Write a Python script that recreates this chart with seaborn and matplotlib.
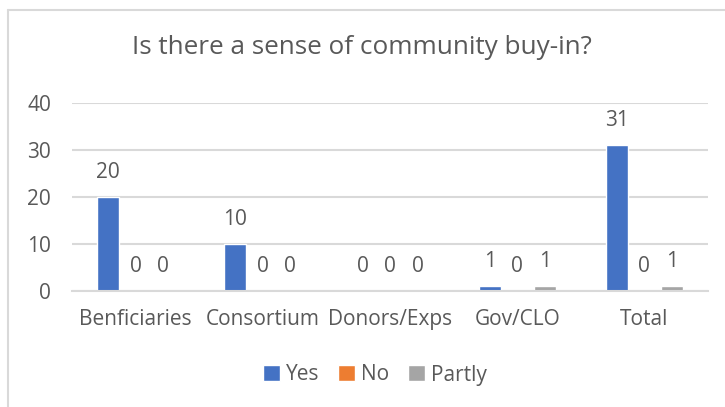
import matplotlib
matplotlib.use("Agg")
import matplotlib.pyplot as plt
from matplotlib.lines import Line2D
import seaborn as sns
import pandas as pd

# Survey responses per stakeholder group
groups = ["Benficiaries", "Consortium", "Donors/Exps", "Gov/CLO", "Total"]
yes_counts = [20, 10, 0, 1, 31]
no_counts = [0, 0, 0, 0, 0]
partly_counts = [0, 0, 0, 1, 1]
responses = ["Yes", "No", "Partly"]
colors = ["#4472C4", "#ED7D31", "#A5A5A5"]
y_ticks = [0, 10, 20, 30, 40]

rows = []
for resp, vals in zip(responses, [yes_counts, no_counts, partly_counts]):
    for g, v in zip(groups, vals):
        rows.append({"group": g, "response": resp, "count": v})
df = pd.DataFrame(rows)

sns.set_theme(style="white")
plt.rcParams["font.family"] = ["Open Sans", "DejaVu Sans"]
text_color = "#595959"
grid_color = "#D9D9D9"
fs = 15

W, H = 725, 407
fig = plt.figure(figsize=(W / 100, H / 100), dpi=100)
ax = fig.add_axes([72 / W, 1 - 291 / H, (708 - 72) / W, (291 - 103) / H])

sns.barplot(data=df, x="group", y="count", hue="response", order=groups,
            hue_order=responses, palette=colors, width=0.65, gap=0.2,
            saturation=1, ax=ax, legend=True)

ax.set_ylim(0, 40)
ax.set_yticks(y_ticks)
ax.set_xlim(-0.5, len(groups) - 0.5)
ax.yaxis.grid(True, color=grid_color, linewidth=1.5)
ax.set_axisbelow(True)
for s in ["top", "right", "left"]:
    ax.spines[s].set_visible(False)
ax.spines["bottom"].set_color(grid_color)
ax.spines["bottom"].set_linewidth(1.5)
ax.set_xlabel("")
ax.set_ylabel("")
ax.tick_params(axis="both", length=0, colors=text_color, labelsize=fs)
ax.tick_params(axis="x", pad=13)
ax.tick_params(axis="y", pad=15)

for cont in ax.containers:
    ax.bar_label(cont, fmt="%d", padding=10, color=text_color, fontsize=fs)

handles, labels = ax.get_legend_handles_labels()
ax.legend_.remove()
fig.legend(handles, labels, loc="center", bbox_to_anchor=(375 / W, 1 - 375 / H),
           ncol=3, frameon=False, fontsize=fs, labelcolor=text_color,
           handlelength=0.8, handleheight=0.8, handletextpad=0.3,
           columnspacing=0.9)

fig.text(362 / W, 1 - 48 / H, "Is there a sense of community buy-in?",
         ha="center", va="center", fontsize=18.8, color=text_color)

# Chart frame (top and left edges)
fig.add_artist(Line2D([8 / W, 8 / W], [0, 1 - 10 / H], color=grid_color,
                      linewidth=1.5, transform=fig.transFigure))
fig.add_artist(Line2D([8 / W, 1], [1 - 10 / H, 1 - 10 / H], color=grid_color,
                      linewidth=1.5, transform=fig.transFigure))

fig.savefig("out.png", dpi=100, facecolor="white")
